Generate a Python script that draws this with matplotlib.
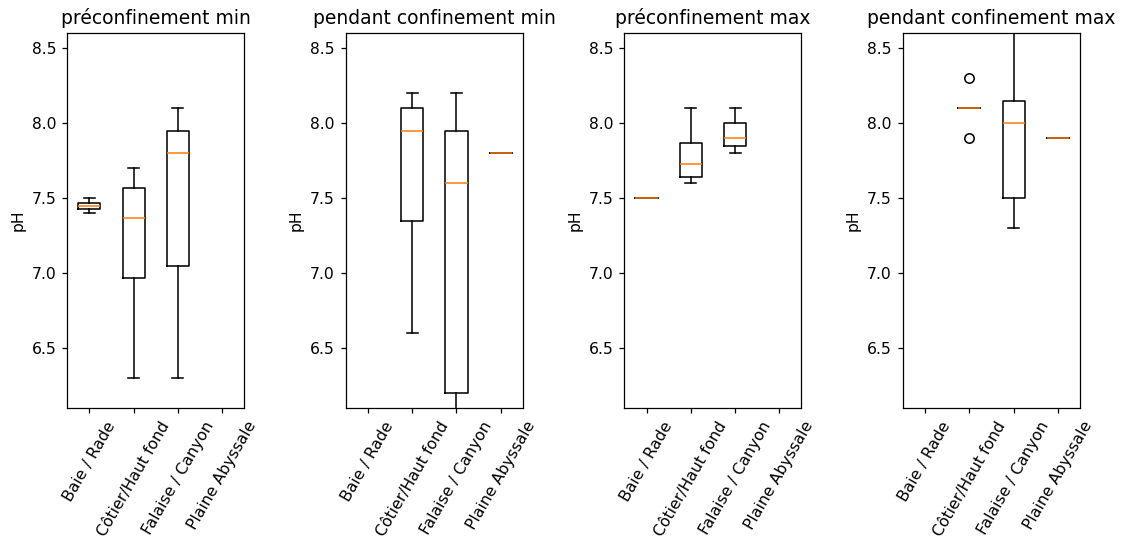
import matplotlib
matplotlib.use("Agg")
import matplotlib.pyplot as plt

categories = ["Baie / Rade", "Côtier/Haut fond", "Falaise / Canyon", "Plaine Abyssale"]
titles = ["préconfinement min", "pendant confinement min",
          "préconfinement max", "pendant confinement max"]

# box statistics per category, None = no data
pre_min_q1 = [7.43, 6.97, 7.05, None]
pre_min_med = [7.445, 7.365, 7.8, None]
pre_min_q3 = [7.47, 7.57, 7.95, None]
pre_min_lo = [7.4, 6.3, 6.3, None]
pre_min_hi = [7.5, 7.7, 8.1, None]

conf_min_q1 = [None, 7.35, 6.2, 7.8]
conf_min_med = [None, 7.95, 7.6, 7.8]
conf_min_q3 = [None, 8.1, 7.95, 7.8]
conf_min_lo = [None, 6.6, 5.9, 7.8]
conf_min_hi = [None, 8.2, 8.2, 7.8]

pre_max_q1 = [7.5, 7.64, 7.85, None]
pre_max_med = [7.5, 7.725, 7.9, None]
pre_max_q3 = [7.5, 7.87, 8.0, None]
pre_max_lo = [7.5, 7.6, 7.8, None]
pre_max_hi = [7.5, 8.1, 8.1, None]

conf_max_q1 = [None, 8.1, 7.5, 7.9]
conf_max_med = [None, 8.1, 8.0, 7.9]
conf_max_q3 = [None, 8.1, 8.15, 7.9]
conf_max_lo = [None, 8.1, 7.3, 7.9]
conf_max_hi = [None, 8.1, 8.7, 7.9]
conf_max_fliers = [[], [8.3, 7.9], [], []]

panels = [
    (pre_min_q1, pre_min_med, pre_min_q3, pre_min_lo, pre_min_hi, None),
    (conf_min_q1, conf_min_med, conf_min_q3, conf_min_lo, conf_min_hi, None),
    (pre_max_q1, pre_max_med, pre_max_q3, pre_max_lo, pre_max_hi, None),
    (conf_max_q1, conf_max_med, conf_max_q3, conf_max_lo, conf_max_hi, conf_max_fliers),
]

fig, axes = plt.subplots(1, 4, figsize=(10, 4.8356), dpi=112.5)
fig.subplots_adjust(left=0.0598, right=0.96, top=0.939, bottom=0.25, wspace=0.573)

for ax, title, (q1, med, q3, lo, hi, fl) in zip(axes, titles, panels):
    stats = []
    pos = []
    for i in range(len(categories)):
        if q1[i] is None:
            continue
        stats.append({"q1": q1[i], "med": med[i], "q3": q3[i],
                      "whislo": lo[i], "whishi": hi[i],
                      "fliers": fl[i] if fl else []})
        pos.append(i + 1)
    ax.bxp(stats, positions=pos, widths=0.5)
    ax.set_xticks(range(1, len(categories) + 1))
    ax.set_xticklabels(categories, rotation=60)
    ax.set_xlim(0.5, 4.5)
    ax.set_ylim(6.1, 8.6)
    ax.set_yticks([6.5, 7.0, 7.5, 8.0, 8.5])
    ax.set_ylabel("pH")
    ax.set_title(title)

plt.savefig("out.png")
